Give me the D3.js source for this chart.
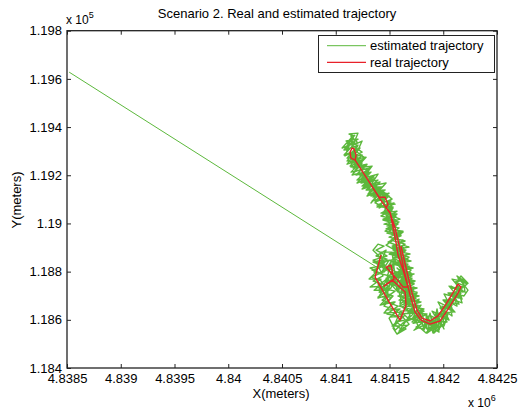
<!DOCTYPE html>
<html>
<head>
<meta charset="utf-8">
<script src="https://cdn.jsdelivr.net/npm/d3@7"></script>
<style>
  html, body { margin: 0; padding: 0; background: #fff; }
  svg { display: block; font-family: "Liberation Sans", Arial, Helvetica, sans-serif; }
</style>
</head>
<body>
<svg id="chart" width="518" height="412"></svg>
<script>
// ---------------- data ----------------
const titleText = "Scenario 2. Real and estimated trajectory";
const xLabelText = "X(meters)";
const yLabelText = "Y(meters)";
const seriesNames = ["estimated trajectory", "real trajectory"];

const xTicks = [4838500, 4839000, 4839500, 4840000, 4840500, 4841000, 4841500, 4842000, 4842500];
const xTickLabels = ["4.8385", "4.839", "4.8395", "4.84", "4.8405", "4.841", "4.8415", "4.842", "4.8425"];
const yTicks = [118400, 118600, 118800, 119000, 119200, 119400, 119600, 119800];
const yTickLabels = ["1.184", "1.186", "1.188", "1.19", "1.192", "1.194", "1.196", "1.198"];

// real trajectory (meters)
const realX = [4841421, 4841366, 4841486, 4841598, 4841654, 4841645, 4841524, 4841449, 4841542, 4841514,
               4841468, 4841552, 4841626, 4841672, 4841635, 4841579, 4841561, 4841505, 4841468, 4841486,
               4841459, 4841403, 4841282, 4841180, 4841142, 4841133, 4841152, 4841170, 4841189, 4841180,
               4841300, 4841412, 4841505, 4841552, 4841589, 4841635, 4841691, 4841738, 4841793, 4841877,
               4841970, 4842063, 4842137, 4842165, 4842137, 4842100, 4842026, 4841951, 4841877, 4841803,
               4841756, 4841710, 4841654, 4841607];
const realY = [118869, 118777, 118682, 118599, 118661, 118715, 118765, 118740, 118769, 118827,
               118819, 118777, 118736, 118736, 118794, 118869, 118919, 119047, 119064, 119080,
               119109, 119109, 119192, 119263, 119271, 119296, 119313, 119309, 119284, 119263,
               119180, 119101, 119043, 118981, 118910, 118806, 118703, 118632, 118599, 118582,
               118595, 118657, 118711, 118736, 118748, 118719, 118665, 118616, 118595, 118607,
               118640, 118711, 118815, 118906];

// estimated trajectory (meters), first pass along the route
const estX1 = [
  4838520, 4841393,
  4841468, 4841375, 4841477, 4841347, 4841449, 4841338, 4841421, 4841328, 4841412,
  4841440, 4841356, 4841496, 4841393, 4841524, 4841440,
  4841552, 4841468, 4841598, 4841505, 4841635, 4841552, 4841626, 4841579,
  4841682, 4841598, 4841710, 4841617, 4841700,
  4841589, 4841691, 4841598, 4841682,
  4841626, 4841570, 4841542, 4841505,
  4841468, 4841421, 4841403,
  4841486, 4841524, 4841579,
  4841486, 4841570, 4841477, 4841561, 4841496,
  4841431, 4841449,
  4841514, 4841477, 4841589, 4841533,
  4841626, 4841570, 4841663, 4841607,
  4841700, 4841654,
  4841710, 4841617, 4841691, 4841598,
  4841663, 4841570, 4841635, 4841533, 4841607,
  4841524, 4841598, 4841514,
  4841607, 4841524, 4841589, 4841496, 4841570, 4841468, 4841552, 4841459,
  4841524, 4841431, 4841514, 4841449, 4841477, 4841393, 4841440, 4841356,
  4841403, 4841310, 4841375, 4841273, 4841338, 4841235, 4841310, 4841226, 4841263, 4841170, 4841235, 4841133, 4841198, 4841105,
  4841161, 4841086, 4841124, 4841096, 4841133, 4841161, 4841142, 4841198, 4841180, 4841226, 4841152, 4841235, 4841133,
  4841226, 4841161, 4841273, 4841198, 4841310, 4841235, 4841338, 4841263, 4841366, 4841291, 4841393, 4841328, 4841431, 4841366, 4841459,
  4841403, 4841496, 4841440, 4841533, 4841459, 4841561, 4841477, 4841579, 4841496, 4841607, 4841524, 4841626, 4841542, 4841635, 4841561,
  4841654, 4841579, 4841672, 4841589, 4841682, 4841607, 4841710, 4841626, 4841728, 4841645, 4841747, 4841663, 4841765, 4841682, 4841784,
  4841700, 4841803, 4841719, 4841831, 4841747, 4841812, 4841849, 4841877, 4841905, 4841924, 4841951, 4841961, 4841998, 4842007, 4842044,
  4841951, 4842082, 4841989, 4842110, 4842017, 4842156, 4842054, 4842175, 4842082, 4842203, 4842110, 4842193, 4842137, 4842221, 4842147,
  4842072, 4842165, 4842044, 4842119, 4841998, 4842072, 4841970, 4842035, 4841914, 4841989, 4841886, 4841914, 4841840, 4841849, 4841784,
  4841775, 4841821, 4841719, 4841793, 4841710, 4841775, 4841682, 4841756, 4841663, 4841728, 4841645, 4841719, 4841626, 4841700, 4841607,
  4841682, 4841598, 4841663, 4841579, 4841645, 4841561, 4841626
];
const estY1 = [
  119628, 118815,
  118889, 118865, 118852, 118840, 118823, 118806, 118794, 118777, 118765,
  118752, 118723, 118723, 118694, 118694, 118665,
  118674, 118640, 118645, 118611, 118616, 118578, 118557, 118545,
  118582, 118624, 118628, 118653, 118674,
  118682, 118699, 118715, 118728,
  118752, 118723, 118782, 118744,
  118765, 118715, 118748,
  118719, 118782, 118748,
  118782, 118798, 118815, 118831, 118848,
  118836, 118798,
  118840, 118773, 118794, 118752,
  118765, 118723, 118744, 118711,
  118719, 118757,
  118757, 118773, 118798, 118806,
  118827, 118840, 118856, 118869, 118889,
  118898, 118919, 118931,
  118948, 118960, 118981, 118989, 119010, 119018, 119039, 119047,
  119064, 119068, 119093, 119089, 119122, 119097, 119130, 119114,
  119143, 119130, 119163, 119151, 119184, 119172, 119209, 119197, 119230, 119213, 119255, 119238, 119275, 119259,
  119296, 119280, 119321, 119305, 119346, 119325, 119363, 119338, 119305, 119313, 119275, 119271, 119255,
  119263, 119230, 119238, 119205, 119213, 119180, 119188, 119155, 119168, 119139, 119143, 119114, 119126, 119089, 119105,
  119064, 119085, 119043, 119064, 119018, 119031, 118989, 119002, 118964, 118964, 118935, 118931, 118902, 118894, 118873,
  118865, 118840, 118831, 118806, 118794, 118769, 118765, 118736, 118728, 118699, 118690, 118665, 118661, 118632, 118628,
  118603, 118616, 118586, 118595, 118570, 118562, 118607, 118553, 118603, 118562, 118611, 118557, 118616, 118574, 118624,
  118624, 118661, 118649, 118682, 118674, 118699, 118703, 118728, 118732, 118740, 118757, 118765, 118773, 118748, 118723,
  118740, 118711, 118711, 118682, 118682, 118645, 118649, 118620, 118624, 118591, 118616, 118570, 118620, 118562, 118591,
  118624, 118636, 118611, 118661, 118645, 118686, 118670, 118711, 118699, 118736, 118728, 118761, 118761, 118794, 118786,
  118823, 118819, 118852, 118860, 118885, 118894, 118910
];

// estimated trajectory (meters), second pass (return leg, wider scatter)
const estX2 = [
  4841682, 4841533, 4841691, 4841542, 4841700, 4841561, 4841719, 4841570,
  4841728, 4841589, 4841738, 4841607, 4841756, 4841626, 4841775,
  4841645, 4841793, 4841663, 4841821, 4841682, 4841849, 4841719,
  4841793, 4841840, 4841877, 4841905, 4841942, 4841970,
  4841896, 4842035, 4841951, 4842082, 4842007, 4842147, 4842054, 4842184,
  4842082, 4842212, 4842128, 4842230,
  4842193, 4842082, 4842147, 4842017, 4842110,
  4841989, 4842054, 4841933, 4842007,
  4841942, 4841905, 4841858, 4841821, 4841784,
  4841710, 4841812, 4841672, 4841775, 4841635, 4841756,
  4841617, 4841728, 4841589, 4841710, 4841570, 4841691,
  4841552, 4841672, 4841533, 4841654, 4841524,
  4841645, 4841496, 4841626, 4841468, 4841589, 4841440, 4841570,
  4841440, 4841542, 4841384, 4841496, 4841338,
  4841459, 4841300, 4841412, 4841245, 4841366,
  4841198, 4841319, 4841142, 4841263, 4841105,
  4841207, 4841077, 4841180, 4841059, 4841152, 4841114, 4841207, 4841096, 4841245, 4841133,
  4841245, 4841152, 4841300, 4841198, 4841347,
  4841245, 4841393, 4841291, 4841440, 4841328,
  4841421, 4841524, 4841384, 4841533, 4841421,
  4841570, 4841440, 4841579, 4841459, 4841607, 4841486,
  4841635, 4841496, 4841654, 4841524, 4841691,
  4841570, 4841710, 4841598, 4841728,
  4841672, 4841607, 4841579, 4841505, 4841598,
  4841477, 4841542, 4841421, 4841496,
  4841421, 4841561, 4841486, 4841598, 4841496,
  4841579, 4841468, 4841486, 4841393,
  4841412, 4841514, 4841561, 4841598, 4841654, 4841691,
  4841579, 4841719, 4841589, 4841728,
  4841598, 4841682, 4841561, 4841654, 4841570,
  4841533, 4841598, 4841449, 4841542, 4841412, 4841514,
  4841393, 4841459, 4841319, 4841421, 4841310,
  4841384, 4841319, 4841459, 4841347, 4841477, 4841375, 4841449, 4841393
];
const estY2 = [
  118902, 118889, 118873, 118860, 118844, 118831, 118815, 118798,
  118790, 118777, 118761, 118744, 118732, 118715, 118699,
  118686, 118674, 118657, 118645, 118628, 118624, 118595,
  118640, 118566, 118628, 118562, 118645, 118582,
  118636, 118607, 118674, 118645, 118707, 118690, 118740, 118715,
  118769, 118757, 118782, 118723,
  118699, 118711, 118665, 118678, 118632,
  118657, 118599, 118620, 118562,
  118628, 118545, 118616, 118557, 118628,
  118591, 118640, 118632, 118678, 118670, 118715,
  118723, 118748, 118761, 118782, 118798, 118819,
  118836, 118852, 118873, 118889, 118906,
  118927, 118943, 118968, 118977, 119006, 119018, 119039,
  119039, 119085, 119068, 119114, 119093,
  119139, 119122, 119172, 119155, 119201,
  119180, 119230, 119213, 119267, 119246,
  119305, 119284, 119334, 119313, 119359, 119325, 119350, 119342, 119296, 119271,
  119251, 119201, 119217, 119168, 119192,
  119143, 119163, 119114, 119139, 119085,
  119139, 119101, 119076, 119068, 119043,
  119051, 119014, 118997, 118968, 118952, 118923,
  118898, 118873, 118856, 118831, 118815,
  118782, 118773, 118744, 118719,
  118699, 118765, 118715, 118752, 118790,
  118757, 118823, 118794, 118848,
  118840, 118852, 118802, 118782, 118752,
  118736, 118773, 118707, 118752,
  118715, 118732, 118794, 118694, 118752, 118699,
  118699, 118682, 118657, 118640,
  118636, 118603, 118591, 118562, 118541,
  118566, 118632, 118628, 118674, 118661, 118707,
  118690, 118740, 118736, 118769, 118769,
  118802, 118815, 118827, 118848, 118865, 118889, 118906, 118914
];

// estimated trajectory (meters), third pass (filling scatter)
const estX3 = [
  4841347, 4841459, 4841356, 4841505, 4841384, 4841552, 4841431, 4841579, 4841477, 4841617,
  4841524, 4841672, 4841589, 4841691, 4841626, 4841719, 4841607, 4841682, 4841570, 4841654,
  4841533, 4841607, 4841552, 4841468,
  4841589, 4841477, 4841561, 4841449, 4841598, 4841486, 4841449, 4841552, 4841412, 4841496,
  4841347, 4841431, 4841282, 4841393, 4841235, 4841328, 4841189, 4841291, 4841142, 4841245,
  4841105, 4841198, 4841077, 4841170, 4841124, 4841207, 4841161, 4841245, 4841198, 4841273,
  4841180, 4841328, 4841226, 4841366, 4841282, 4841421, 4841319, 4841468, 4841366,
  4841524, 4841421, 4841570, 4841486, 4841626, 4841514, 4841645, 4841552, 4841682, 4841589,
  4841700, 4841607, 4841728, 4841635, 4841747, 4841654, 4841775, 4841682, 4841812, 4841728,
  4841877, 4841849, 4841951, 4841914,
  4842026, 4842007, 4842082, 4842054, 4842128, 4842100, 4842175, 4842137, 4842203, 4842184,
  4842230, 4842165, 4842119, 4842175, 4842054, 4842091, 4841979, 4842035, 4841933, 4841961,
  4841886, 4841840, 4841765, 4841738
];
const estY3 = [
  118889, 118840, 118798, 118782, 118736, 118719, 118682, 118657, 118624, 118611,
  118574, 118578, 118553, 118620, 118682, 118657, 118723, 118765, 118815, 118782,
  118856, 118840, 118889, 118910,
  118948, 118960, 118989, 118997, 119018, 119039, 119072, 119080, 119097, 119126,
  119109, 119151, 119139, 119180, 119168, 119213, 119201, 119246, 119234, 119284,
  119271, 119321, 119305, 119363, 119371, 119375, 119325, 119342, 119296, 119271,
  119246, 119234, 119201, 119188, 119155, 119151, 119118, 119126, 119085,
  119055, 119031, 119014, 118981, 118964, 118931, 118914, 118881, 118860, 118831,
  118806, 118769, 118752, 118719, 118707, 118670, 118649, 118607, 118591, 118557,
  118591, 118545, 118578, 118545,
  118591, 118640, 118616, 118674, 118657, 118703, 118686, 118732, 118715, 118769,
  118752, 118782, 118752, 118670, 118690, 118632, 118628, 118591, 118595, 118549,
  118570, 118545, 118574, 118607
];

// estimated trajectory (meters), fourth pass (lower cluster and main leg)
const estX4 = [
  4841635, 4841552, 4841496, 4841570, 4841449, 4841533, 4841403, 4841496, 4841347, 4841440,
  4841375, 4841468, 4841412, 4841524, 4841561, 4841635, 4841598, 4841672, 4841589, 4841505,
  4841561, 4841468, 4841449, 4841384, 4841468, 4841319, 4841393, 4841254, 4841338, 4841189,
  4841282, 4841133, 4841207, 4841105, 4841180
];
const estY4 = [
  118591, 118557, 118607, 118640, 118657, 118699, 118715, 118740, 118761, 118782,
  118840, 118806, 118881, 118881, 118748, 118815, 118665, 118690, 118931, 118993,
  118943, 119035, 119093, 119126, 119168, 119155, 119205, 119188, 119238, 119230,
  119275, 119263, 119325, 119334, 119367
];

// ---------------- drawing ----------------
const svg = d3.select("#chart");
const W = 518, H = 412;
const plot = { left: 67, right: 497, top: 30.7, bottom: 368 };
const FONT = 13;
const green = "#5cb83c", red = "#e8212a", axisColor = "#222";

const x = d3.scaleLinear().domain([xTicks[0], xTicks[xTicks.length - 1]]).range([plot.left, plot.right]);
const y = d3.scaleLinear().domain([yTicks[0], yTicks[yTicks.length - 1]]).range([plot.bottom, plot.top]);

svg.append("rect").attr("width", W).attr("height", H).attr("fill", "#fff");

svg.append("defs").append("clipPath").attr("id", "clip")
  .append("rect").attr("x", plot.left).attr("y", plot.top)
  .attr("width", plot.right - plot.left).attr("height", plot.bottom - plot.top);

const line = d3.line().x(d => x(d[0])).y(d => y(d[1]));
const estX = estX1.concat(estX2, estX3, estX4);
const estY = estY1.concat(estY2, estY3, estY4);
const estPts = estX.map((v, i) => [v, estY[i]]);
const realPts = realX.map((v, i) => [v, realY[i]]);

const marks = svg.append("g").attr("clip-path", "url(#clip)");
// initial jump of the estimate (thin), then the dense tracking part
marks.append("path").datum(estPts.slice(0, 2)).attr("d", line)
  .attr("fill", "none").attr("stroke", green).attr("stroke-width", 1);
marks.append("path").datum(estPts.slice(1)).attr("d", line)
  .attr("fill", "none").attr("stroke", green).attr("stroke-width", 1.4).attr("stroke-linejoin", "round");
marks.append("path").datum(realPts).attr("d", line)
  .attr("fill", "none").attr("stroke", red).attr("stroke-width", 1.4).attr("stroke-linejoin", "round");

// axes
function styleAxis(g) {
  g.select(".domain").remove();
  g.selectAll("line").attr("stroke", axisColor).attr("stroke-width", 1);
  g.selectAll("text").attr("fill", "#000").style("font-size", FONT + "px")
    .style("font-family", '"Liberation Sans", Arial, Helvetica, sans-serif');
}
const xTickFmt = (d) => xTickLabels[xTicks.indexOf(d)];
const yTickFmt = (d) => yTickLabels[yTicks.indexOf(d)];

svg.append("g").attr("transform", `translate(0,${plot.bottom})`)
  .call(d3.axisBottom(x).tickValues(xTicks).tickFormat(xTickFmt).tickSizeInner(-4).tickSizeOuter(0).tickPadding(6))
  .call(styleAxis);
svg.append("g").attr("transform", `translate(0,${plot.top})`)
  .call(d3.axisTop(x).tickValues(xTicks).tickFormat("").tickSizeInner(-4).tickSizeOuter(0))
  .call(styleAxis);
svg.append("g").attr("transform", `translate(${plot.left},0)`)
  .call(d3.axisLeft(y).tickValues(yTicks).tickFormat(yTickFmt).tickSizeInner(-4).tickSizeOuter(0).tickPadding(5))
  .call(styleAxis);
svg.append("g").attr("transform", `translate(${plot.right},0)`)
  .call(d3.axisRight(y).tickValues(yTicks).tickFormat("").tickSizeInner(-4).tickSizeOuter(0))
  .call(styleAxis);

// box
svg.append("rect").attr("x", plot.left).attr("y", plot.top)
  .attr("width", plot.right - plot.left).attr("height", plot.bottom - plot.top)
  .attr("fill", "none").attr("stroke", axisColor).attr("stroke-width", 1.3);

// title & labels
const txt = (sel) => sel.attr("fill", "#000").style("font-size", FONT + "px");
svg.append("text").attr("x", 277).attr("y", 18).attr("text-anchor", "middle").text(titleText).call(txt);
svg.append("text").attr("x", 281).attr("y", 398).attr("text-anchor", "middle").text(xLabelText).call(txt);
svg.append("text").attr("transform", "translate(21,200) rotate(-90)").attr("text-anchor", "middle").text(yLabelText).call(txt);

// exponent labels
function expLabel(xp, yp, exp) {
  const t = svg.append("text").attr("x", xp).attr("y", yp).attr("fill", "#000").style("font-size", "12px");
  t.append("tspan").text("x 10");
  t.append("tspan").attr("dy", -6).style("font-size", "9px").text(exp);
}
expLabel(66, 24, "5");
expLabel(468, 407, "6");

// legend
const lg = svg.append("g");
lg.append("rect").attr("x", 318.5).attr("y", 35.5).attr("width", 176).attr("height", 37)
  .attr("fill", "#fff").attr("stroke", axisColor).attr("stroke-width", 1);
const legendColors = [green, red];
seriesNames.forEach((name, i) => {
  const yy = 45.7 + i * 16.6;
  lg.append("line").attr("x1", 327).attr("x2", 366).attr("y1", yy).attr("y2", yy)
    .attr("stroke", legendColors[i]).attr("stroke-width", i === 0 ? 1 : 1.3);
  lg.append("text").attr("x", 370).attr("y", yy).attr("dy", "0.35em").text(name).call(txt);
});
</script>
</body>
</html>
